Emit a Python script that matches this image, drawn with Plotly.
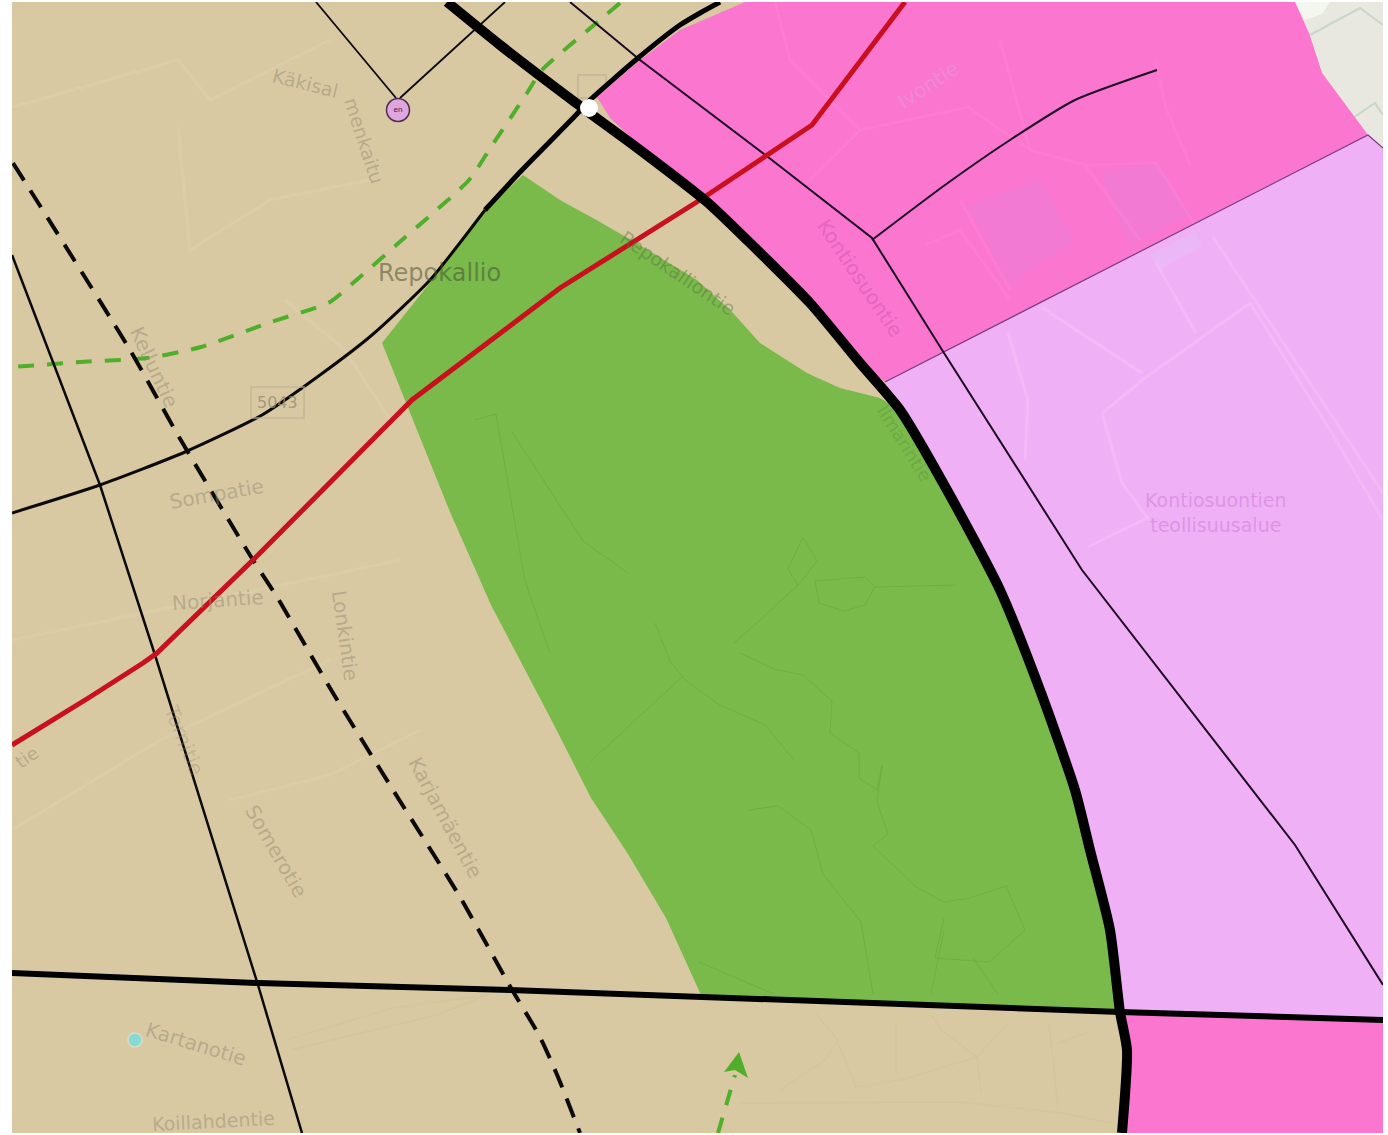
import plotly.graph_objects as go

# ---- area polygons (map pixel coordinates) ----
corner_x = [1288, 1383, 1383, 1368, 1322, 1309]
corner_y = [2, 2, 150, 135, 73, 33]
corner_band_x = [1295, 1330, 1322, 1305]
corner_band_y = [2, 2, 14, 20]
pink_x = [597, 640, 680, 745, 1295, 1309, 1322, 1368, 885, 860, 810, 747, 707, 640, 610]
pink_y = [97, 60, 30, 2, 2, 33, 73, 135, 382, 363, 303, 240, 202, 146, 118]
light_x = [885, 1368, 1383, 1383, 1120, 1110, 1090, 1075, 1040, 1000, 947, 900]
light_y = [382, 135, 148, 1020, 1012, 930, 850, 790, 690, 590, 490, 410]
pink2_x = [1122, 1383, 1383, 1122, 1128]
pink2_y = [1014, 1020, 1133, 1133, 1050]
green_x = [523, 560, 600, 643, 697, 733, 760, 807, 840, 880, 900, 947, 1000, 1040, 1075, 1090, 1110, 1120,
           701, 666, 628, 591, 554, 512, 491, 450, 405, 382, 440, 485]
green_y = [175, 200, 222, 247, 280, 313, 343, 373, 388, 398, 410, 490, 590, 690, 790, 850, 930, 1012,
           995, 918, 854, 798, 725, 645, 605, 512, 400, 343, 270, 210]
patch1_x = [968, 1040, 1075, 1010]
patch1_y = [205, 180, 240, 285]
patch2_x = [1100, 1155, 1190, 1130]
patch2_y = [172, 163, 215, 245]
patch3_x = [1150, 1195, 1202, 1160]
patch3_y = [255, 232, 245, 270]

# ---- roads and lines ----
thick_x = [447, 500, 576, 640, 707, 747, 810, 860, 900, 947, 1000, 1040, 1075, 1090, 1110, 1120, 1127, 1122]
thick_y = [2, 45, 103, 150, 202, 240, 303, 363, 410, 490, 590, 690, 790, 850, 930, 1012, 1050, 1133]
horiz_x = [12, 258, 510, 700, 1120, 1383]
horiz_y = [973, 983, 990, 997, 1012, 1020]
mid_x = [720, 700, 680, 638, 590, 576, 522, 485]
mid_y = [2, 13, 25, 58, 100, 115, 170, 210]
mid2_x = [485, 430, 372, 320, 262, 185, 100, 12]
mid2_y = [210, 280, 335, 375, 415, 452, 485, 513]
kaki1_x = [316, 396]
kaki1_y = [2, 98]
kaki2_x = [400, 505]
kaki2_y = [98, 2]
kont_x = [570, 640, 768, 872, 944, 1082, 1295, 1383]
kont_y = [2, 60, 157, 238, 353, 570, 845, 985]
iv_x = [872, 945, 1010, 1075, 1157]
iv_y = [240, 185, 140, 100, 70]
west_x = [12, 100, 155, 258, 302]
west_y = [255, 485, 655, 985, 1133]
border_x = [885, 1368, 1383]
border_y = [382, 135, 148]
dash_x = [13, 130, 179, 253, 277, 333, 393, 460, 511, 540, 558, 580]
dash_y = [163, 350, 437, 560, 597, 693, 790, 897, 988, 1037, 1077, 1133]
red_x = [905, 812, 700, 560, 412, 253, 157, 143, 90, 12]
red_y = [2, 125, 200, 288, 400, 560, 653, 663, 697, 745]
gdash_x = [620, 594, 542, 527, 491, 469, 402, 353, 330, 268, 201, 147, 80, 13]
gdash_y = [3, 25, 70, 93, 147, 180, 240, 283, 302, 323, 347, 358, 362, 367]
arrow_x = [718, 735]
arrow_y = [1133, 1075]
arrowhead_x = [739, 748, 735, 724]
arrowhead_y = [1052, 1078, 1070, 1072]

# ---- faint background ways ----
pink_ways = [
    ([800, 860, 968, 1030, 1085, 1156, 1195], [190, 130, 107, 150, 165, 163, 225]),
    ([1085, 1140], [165, 240]),
    ([925, 960, 1010], [245, 230, 300]),
    ([960, 1010], [200, 290]),
    ([775, 790, 860], [2, 60, 130]),
    ([1000, 1030], [40, 150]),
    ([1156, 1165, 1190], [60, 105, 165]),
]
light_ways = [
    ([1149, 1250], [375, 303]),
    ([1102, 1149], [413, 375]),
    ([1102, 1122, 1149], [413, 483, 520]),
    ([1156, 1196], [263, 333]),
    ([1213, 1383], [237, 493]),
    ([1041, 1142], [307, 373]),
    ([1088, 1149], [547, 517]),
    ([1008, 1028, 1025], [333, 400, 460]),
    ([1250, 1330, 1383], [303, 430, 520]),
]
tan_ways = [
    ([13, 178, 210, 330], [107, 60, 100, 40]),
    ([178, 190, 270, 370], [127, 250, 200, 180]),
    ([285, 345, 390], [300, 350, 420]),
    ([12, 210, 330, 400], [640, 600, 575, 560]),
    ([12, 160, 330], [830, 740, 660]),
    ([230, 330, 420], [800, 775, 730]),
]
low_ways = [
    ([286, 393, 487], [1040, 1008, 995]),
    ([290, 437, 487], [1050, 1015, 995]),
    ([780, 825, 838, 815], [1090, 1060, 1040, 1013]),
    ([838, 856, 901, 977, 981], [1043, 1087, 1080, 1057, 1093]),
    ([977, 941, 932], [1057, 1030, 1015]),
    ([977, 1008], [1057, 1023]),
    ([896, 896], [1023, 1073]),
    ([1049, 1058], [1023, 1107]),
    ([1058, 1089], [1043, 1032]),
    ([739, 959, 1062, 1111], [1103, 1102, 1113, 1123]),
]
green_ways = [
    ([655, 670, 686, 720, 765, 794], [623, 661, 681, 705, 725, 760]),
    ([591, 682], [761, 677]),
    ([734, 759, 798, 788, 803, 817, 798], [643, 621, 585, 569, 537, 561, 585]),
    ([815, 819, 844, 865, 875, 865, 815], [581, 603, 611, 605, 587, 577, 581]),
    ([875, 956], [587, 585]),
    ([740, 774, 803, 832, 830, 859, 859, 877, 882, 877, 888, 873, 915, 944, 969, 1006, 1025, 989, 935, 944],
     [653, 669, 675, 701, 733, 753, 778, 790, 765, 802, 834, 846, 886, 902, 898, 886, 930, 962, 958, 918]),
    ([749, 778, 811, 823, 861, 873], [810, 806, 830, 874, 922, 994]),
    ([475, 496, 525, 550], [420, 414, 581, 653]),
    ([512, 583, 628], [432, 541, 573]),
    ([931, 944], [994, 930]),
    ([699, 774], [962, 994]),
    ([973, 998], [958, 994]),
]
corner_ways = [
    ([1310, 1360, 1383], [35, 8, 25]),
    ([1350, 1375, 1383], [120, 103, 115]),
]

# ---- labels: text, x, y, angle, size, colour ----
TAN_TXT = "rgba(150,140,115,0.5)"
labels = [
    ("Käkisal", 305, 83, 14, 19, TAN_TXT),
    ("menkaitu", 364, 140, 72, 19, TAN_TXT),
    ("Repokallio", 439, 273, 0, 24, "rgba(70,80,50,0.55)"),
    ("Ivontie", 928, 85, -33, 20, "rgba(235,140,215,0.95)"),
    ("Kontiosuontie", 860, 278, 56, 20, "rgba(195,85,170,0.45)"),
    ("Kontiosuontien<br>teollisuusalue", 1216, 512, 0, 19, "rgba(205,125,215,0.55)"),
    ("Kelluntie", 154, 367, 65, 20, TAN_TXT),
    ("Sompatie", 216, 494, -10, 20, TAN_TXT),
    ("Norjantie", 218, 600, -4, 20, TAN_TXT),
    ("Lonkintie", 345, 635, 82, 20, TAN_TXT),
    ("Karjamäentie", 445, 817, 62, 20, TAN_TXT),
    ("Somerotie", 276, 851, 60, 20, TAN_TXT),
    ("Tornitie", 184, 740, 68, 20, "rgba(150,140,115,0.35)"),
    ("Kartanotie", 196, 1044, 17, 20, TAN_TXT),
    ("Koillahdentie", 213, 1121, -3, 19, TAN_TXT),
    ("Repokalliontie", 678, 273, 34, 19, "rgba(90,110,60,0.45)"),
    ("Ilmarintie", 905, 443, 58, 18, "rgba(80,130,50,0.3)"),
    ("tie", 26, 757, -35, 18, TAN_TXT),
]
marker_en_x = [398]
marker_en_y = [110]
marker_cyan_x = [135]
marker_cyan_y = [1040]
junction_x = [589]
junction_y = [108]

fig = go.Figure()


def area(x, y, color):
    fig.add_trace(go.Scatter(x=x, y=y, mode="lines", fill="toself", fillcolor=color,
                             line=dict(width=0, color=color), hoverinfo="skip", showlegend=False))


def line(x, y, color, width, dash=None, shape="linear"):
    fig.add_trace(go.Scatter(x=x, y=y, mode="lines", hoverinfo="skip", showlegend=False,
                             line=dict(color=color, width=width, dash=dash, shape=shape, smoothing=0.6)))


for wx, wy in tan_ways:
    line(wx, wy, "rgba(228,216,184,0.3)", 3)
for wx, wy in low_ways:
    line(wx, wy, "rgba(205,192,158,0.45)", 1.5)
area(corner_x, corner_y, "#E9E8E0")
area(corner_band_x, corner_band_y, "#F4F6F0")
for wx, wy in corner_ways:
    line(wx, wy, "#C9D6C8", 2)
area(pink_x, pink_y, "#FB76CF")
area(patch1_x, patch1_y, "#F37AD3")
area(patch2_x, patch2_y, "#F37AD3")
for wx, wy in pink_ways:
    line(wx, wy, "rgba(255,140,220,0.3)", 3)
area(light_x, light_y, "#F0B0F5")
area(patch3_x, patch3_y, "rgba(232,188,248,0.7)")
for wx, wy in light_ways:
    line(wx, wy, "rgba(246,190,248,0.6)", 3)
area(pink2_x, pink2_y, "#FB76CF")
area(green_x, green_y, "#79BA4B")
for wx, wy in green_ways:
    line(wx, wy, "rgba(100,165,60,0.5)", 1)

line(border_x, border_y, "#7A3A80", 1.2)
line(gdash_x, gdash_y, "#4FAF2A", 4, "16px,13px", "spline")
line(arrow_x, arrow_y, "#4FAF2A", 4, "16px,13px")
area(arrowhead_x, arrowhead_y, "#4FAF2A")
line(dash_x, dash_y, "#0A0A0A", 4, "20px,12px", "spline")
line(west_x, west_y, "#0A0A0A", 2.5)
line(kaki1_x, kaki1_y, "#0A0A0A", 1.8)
line(kaki2_x, kaki2_y, "#0A0A0A", 1.8)
line(kont_x, kont_y, "#1A0A22", 2)
line(iv_x, iv_y, "#1A0A22", 2, None, "spline")
line(mid_x, mid_y, "#000000", 5, None, "spline")
line(mid2_x, mid2_y, "#0A0A0A", 3, None, "spline")
line(horiz_x, horiz_y, "#000000", 6)
line(red_x, red_y, "#C8101E", 5)
line(thick_x, thick_y, "#000000", 10, None, "spline")

fig.add_trace(go.Scatter(x=marker_en_x, y=marker_en_y, mode="markers+text", text=["en"],
                         textposition="middle center", textfont=dict(size=8, color="#40204A", family="Liberation Sans"),
                         marker=dict(size=23, color="#DFA6DD", line=dict(color="#4A2A50", width=1.5)),
                         hoverinfo="skip", showlegend=False))
fig.add_trace(go.Scatter(x=marker_cyan_x, y=marker_cyan_y, mode="markers",
                         marker=dict(size=14, color="#86DAD0", line=dict(color="#D8DCC8", width=1.5)),
                         hoverinfo="skip", showlegend=False))
fig.add_trace(go.Scatter(x=junction_x, y=junction_y, mode="markers",
                         marker=dict(size=18, color="#FFFFFF"),
                         hoverinfo="skip", showlegend=False))

for text, x, y, ang, size, col in labels:
    fig.add_annotation(x=x, y=y, text=text, textangle=ang, showarrow=False,
                       font=dict(family="DejaVu Sans", size=size, color=col), align="center")
fig.add_annotation(x=277, y=402, text="5043", showarrow=False,
                   font=dict(family="DejaVu Sans", size=16, color="rgba(150,140,115,0.8)"),
                   bordercolor="rgba(190,180,150,0.6)", borderwidth=2, borderpad=5)

fig.add_shape(type="rect", x0=578, y0=75, x1=606, y1=98, layer="below",
              line=dict(color="rgba(190,180,150,0.7)", width=2))

fig.update_layout(
    width=1388, height=1135, autosize=False,
    margin=dict(l=12, r=5, t=2, b=2),
    paper_bgcolor="#FFFFFF", plot_bgcolor="#D9C9A3",
    showlegend=False,
    xaxis=dict(range=[12, 1383], visible=False, fixedrange=True),
    yaxis=dict(range=[1133, 2], visible=False, fixedrange=True),
)
fig.write_html("out.html", post_script="document.body.style.margin='0';",
               config={"displayModeBar": False})
